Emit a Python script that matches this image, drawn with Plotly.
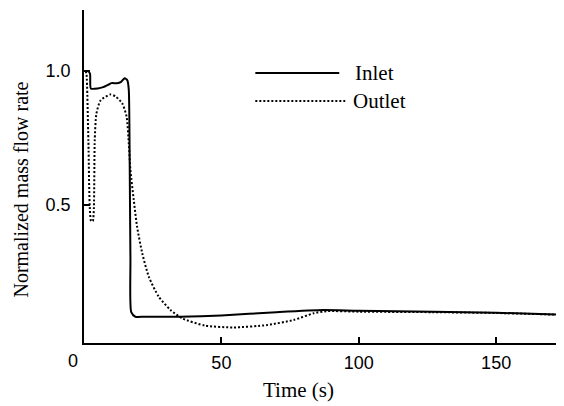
import plotly.graph_objects as go

# ---- data ----
inlet_t = [0, 0.3, 1.5, 2.2, 2.5, 5, 7, 9, 10, 12, 13.5, 14.8, 15.8, 16.3, 16.6, 16.9, 17.2, 18.7, 22, 35, 50, 70, 87, 100, 127, 150, 175]
inlet_v = [1.0, 1.0, 1.0, 0.99, 0.935, 0.935, 0.94, 0.95, 0.955, 0.955, 0.96, 0.973, 0.965, 0.93, 0.7, 0.3, 0.1, 0.083, 0.083, 0.083, 0.088, 0.1, 0.108, 0.105, 0.102, 0.098, 0.09]

outlet_t = [0.6, 0.9, 1.6, 2.6, 3.2, 3.6, 3.9, 4.5, 6, 9.6, 11.5, 13.9, 15.5, 16.3, 16.9, 18.1, 19.3, 21.2, 23.6, 27.2, 31.5, 35.7, 44, 54.4, 66.6, 76.3, 83.6, 88.4, 100, 127, 150, 175]
outlet_v = [1.0, 0.99, 0.74, 0.44, 0.44, 0.49, 0.74, 0.84, 0.89, 0.913, 0.905, 0.88, 0.83, 0.73, 0.63, 0.52, 0.42, 0.32, 0.232, 0.158, 0.108, 0.077, 0.05, 0.043, 0.052, 0.071, 0.096, 0.104, 0.102, 0.1, 0.097, 0.09]

x_ticks = [50, 100, 150]
y_ticks = [0.5, 1.0]
y_tick_text = ["0.5", "1.0"]

# page body has an 8px margin; size the figure so it fits the 564x406 window
OFF = 8
W, H = 564 - OFF, 406 - OFF
L, R, T, B = 75.5, 0, 2, 63
PW, PH = W - L - R, H - T - B


def px(X):
    """reference-image x pixel -> paper coordinate"""
    return (X - OFF - L) / PW


def py(Y):
    """reference-image y pixel -> paper coordinate"""
    return (H - B - (Y - OFF)) / PH


SERIF = "Liberation Serif, Times New Roman, serif"
SANS = "Liberation Sans, Arial, sans-serif"

fig = go.Figure()
fig.add_trace(go.Scatter(x=inlet_t, y=inlet_v, mode="lines", name="Inlet",
                         line=dict(color="black", width=2, shape="spline", smoothing=0.6),
                         showlegend=False))
fig.add_trace(go.Scatter(x=outlet_t, y=outlet_v, mode="lines", name="Outlet",
                         line=dict(color="black", width=2, dash="2px,2px", shape="spline", smoothing=0.6),
                         showlegend=False))

fig.update_layout(
    width=W, height=H,
    margin=dict(l=L, r=R, t=T, b=B, autoexpand=False),
    paper_bgcolor="white", plot_bgcolor="white",
    xaxis=dict(range=[0, 174.7], tickvals=x_ticks, ticks="inside", ticklen=6,
               tickwidth=1.5, tickcolor="black", showline=True, linecolor="black",
               linewidth=1.8, showgrid=False, zeroline=False,
               tickfont=dict(family=SANS, size=18, color="black"), ticklabelstandoff=2),
    yaxis=dict(range=[-0.015, 1.228], tickvals=y_ticks, ticktext=y_tick_text,
               ticks="inside", ticklen=6, tickwidth=1.5, tickcolor="black",
               showline=True, linecolor="black", linewidth=1.8, showgrid=False,
               zeroline=False, tickfont=dict(family=SANS, size=18, color="black"),
               ticklabelstandoff=8),
    showlegend=False,
)

# legend samples
fig.add_shape(type="line", xref="paper", yref="paper", x0=px(255), x1=px(339), y0=py(73), y1=py(73),
              line=dict(color="black", width=2))
fig.add_shape(type="line", xref="paper", yref="paper", x0=px(255), x1=px(345), y0=py(101), y1=py(101),
              line=dict(color="black", width=2, dash="2px,2px"))
fig.add_annotation(text="Inlet", xref="paper", yref="paper", x=px(353), y=py(73), xanchor="left",
                   yanchor="middle", showarrow=False, font=dict(family=SERIF, size=21, color="black"))
fig.add_annotation(text="Outlet", xref="paper", yref="paper", x=px(351), y=py(101), xanchor="left",
                   yanchor="middle", showarrow=False, font=dict(family=SERIF, size=21, color="black"))

# axis titles
fig.add_annotation(text="Time (s)", xref="paper", yref="paper", x=px(298), y=py(390), xanchor="center",
                   yanchor="middle", showarrow=False, font=dict(family=SERIF, size=21, color="black"))
fig.add_annotation(text="Normalized mass flow rate", xref="paper", yref="paper", x=px(20), y=py(190),
                   xanchor="center", yanchor="middle", textangle=-90, showarrow=False, borderpad=0,
                   font=dict(family=SERIF, size=20, color="black"))
# "0" tick label, offset left of the axis as in the reference
fig.add_annotation(text="0", xref="paper", yref="paper", x=px(72), y=py(361), xanchor="center",
                   yanchor="middle", showarrow=False, font=dict(family=SANS, size=18, color="black"))

fig.write_html("out.html")
